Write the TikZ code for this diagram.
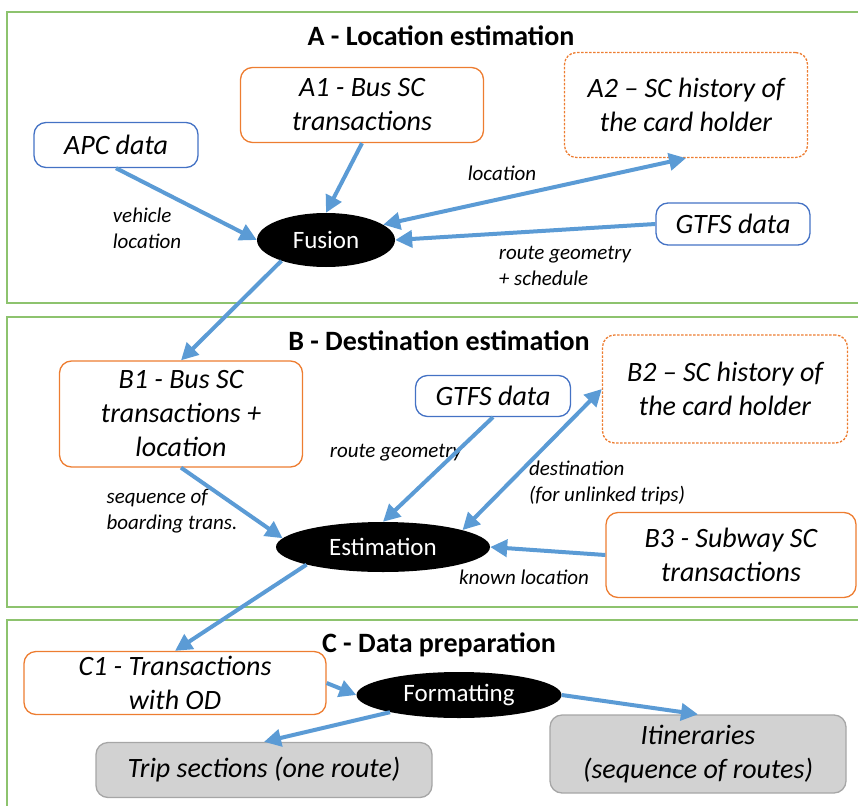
\documentclass[tikz,border=0pt]{standalone}
\usepackage{fontspec}
\setmainfont{Carlito}
\usepackage{tikz}
\usetikzlibrary{positioning}
\usetikzlibrary{shapes.geometric}
\usetikzlibrary{arrows.meta}

\definecolor{panelgreen}{RGB}{141,195,110}
\definecolor{boxblue}{RGB}{68,114,196}
\definecolor{boxorange}{RGB}{237,125,49}
\definecolor{flowblue}{RGB}{91,155,213}
\definecolor{boxgrey}{RGB}{210,210,210}

\begin{document}
\begin{tikzpicture}[x=1pt, y=-1pt,
  panel/.style={draw=panelgreen, line width=1.8pt},
  heading/.style={font=\fontsize{28}{32}\selectfont\bfseries},
  box/.style={rounded corners=12pt, align=center, inner sep=0pt, line width=1.3pt, font=\fontsize{28}{34}\selectfont\itshape},
  bluebox/.style={box, draw=boxblue},
  orangebox/.style={box, draw=boxorange},
  dashbox/.style={box, draw=boxorange, dash pattern=on 2.5pt off 1.5pt},
  greybox/.style={box, draw=gray!70, fill=boxgrey},
  blob/.style={ellipse, fill=black, text=white, inner sep=0pt, font=\fontsize{25}{28}\selectfont},
  lab/.style={align=left, font=\fontsize{21}{26}\selectfont\itshape},
  flow/.style={draw=flowblue, line width=4pt, -{Triangle[length=17pt, width=17pt]}},
  twoway/.style={flow, {Triangle[length=17pt, width=17pt]}-{Triangle[length=17pt, width=17pt]}}]
  \useasboundingbox (0, 0) rectangle (858, 805);

  \draw[panel] (7, 12) rectangle (866, 303);
  \draw[panel] (7, 317) rectangle (866, 607);
  \draw[panel] (7, 620) rectangle (866, 815);

  \node[heading] at (441, 36) (titleA) {A - Location estimation};
  \node[orangebox, minimum width=243, minimum height=75] at (362, 105) (a1) {A1 - Bus SC\\transactions};
  \node[dashbox, minimum width=243, minimum height=105] at (686, 105) (a2) {A2 – SC history of\\the card holder};
  \node[bluebox, minimum width=164, minimum height=45] at (116, 145) (apc) {APC data};
  \node[blob, minimum width=138, minimum height=54] at (326, 240) (fusion) {Fusion};
  \node[bluebox, minimum width=154, minimum height=42] at (733, 224) (gtfsA) {GTFS data};
  \node[lab] at (147, 228) (vehloc) {vehicle\\location};
  \node[lab] at (502, 173) (loc) {location};
  \node[lab] at (565, 266) (routeA) {route geometry\\+ schedule};

  \draw[flow] (apc.south) -- (fusion.west);
  \draw[flow] (a1.south) -- (fusion.north);
  \draw[twoway] (fusion.15) -- (a2.south);
  \draw[flow] (gtfsA.west) -- (fusion.east);

  \node[heading] at (439, 341) (titleB) {B - Destination estimation};
  \node[orangebox, minimum width=243, minimum height=106] at (181, 414) (b1) {B1 - Bus SC\\transactions +\\location};
  \node[bluebox, minimum width=155, minimum height=41] at (493, 396) (gtfsB) {GTFS data};
  \node[dashbox, minimum width=245, minimum height=108] at (725, 389) (b2) {B2 – SC history of\\the card holder};
  \node[blob, minimum width=214, minimum height=50] at (383, 547) (est) {Estimation};
  \node[orangebox, minimum width=250, minimum height=85] at (731, 555) (b3) {B3 - Subway SC\\transactions};
  \node[lab] at (396, 453) (routeB) {route geometry};
  \node[lab] at (607, 483) (dest) {destination\\(for unlinked trips)};
  \node[lab] at (172, 511) (seq) {sequence of\\boarding trans.};
  \node[lab] at (524, 577) (known) {known location};

  \draw[flow] (fusion.205) -- (b1.north);
  \draw[flow] (b1.south) -- (est.175);
  \draw[flow] (gtfsB.south) -- (est.north);
  \draw[twoway] (est.12) -- (b2.west);
  \draw[flow] (b3.west) -- (est.east);

  \node[heading] at (439, 645) (titleC) {C - Data preparation};
  \node[orangebox, minimum width=302, minimum height=63] at (175, 683) (c1) {C1 - Transactions\\with OD};
  \node[blob, minimum width=205, minimum height=46] at (459, 695) (fmt) {Formatting};
  \node[greybox, minimum width=336, minimum height=55] at (264, 770) (trip) {Trip sections (one route)};
  \node[greybox, minimum width=296, minimum height=78] at (698, 754) (itin) {Itineraries\\(sequence of routes)};

  \draw[flow] (est.193) -- (c1.north);
  \draw[flow] (c1.east) -- (fmt.west);
  \draw[flow] (fmt.194) -- (trip.north);
  \draw[flow] (fmt.east) -- (itin.north);
\end{tikzpicture}
\end{document}
